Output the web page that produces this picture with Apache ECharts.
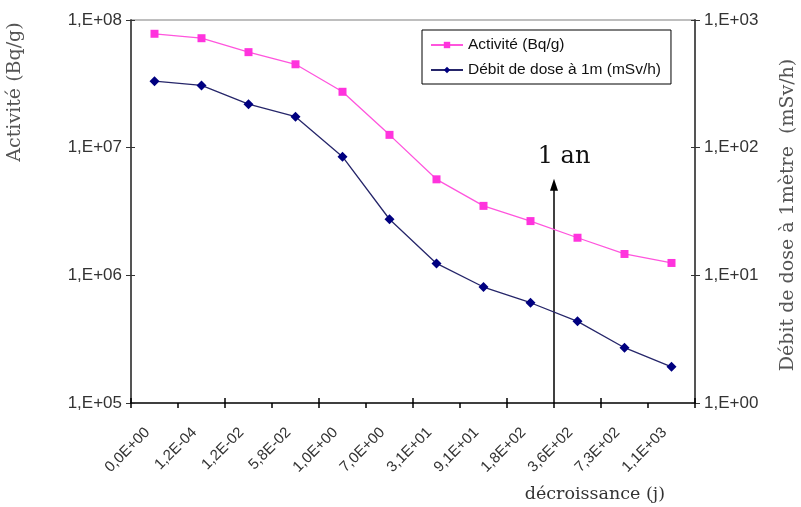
<!DOCTYPE html>
<html>
<head>
<meta charset="utf-8">
<script src="https://cdn.jsdelivr.net/npm/echarts@6/dist/echarts.min.js"></script>
<style>
  html, body { margin: 0; padding: 0; background: #fff; }
  #chart { width: 801px; height: 507px; }
</style>
</head>
<body>
<div id="chart"></div>
<script>
// Decay times (days) shown as category labels
const categories = ['0,0E+00', '1,2E-04', '1,2E-02', '5,8E-02', '1,0E+00', '7,0E+00',
  '3,1E+01', '9,1E+01', '1,8E+02', '3,6E+02', '7,3E+02', '1,1E+03'];

// Specific activity (Bq/g), left log axis
const activite = [7.8e7, 7.2e7, 5.6e7, 4.5e7, 2.74e7, 1.26e7,
  5.65e6, 3.5e6, 2.66e6, 1.97e6, 1.47e6, 1.25e6];

// Dose rate at 1 m (mSv/h), right log axis
const debitDose = [332, 307, 219, 175, 85, 27.5, 12.4, 8.1, 6.1, 4.36, 2.71, 1.92];

// "1 an" marker: between these two categories, arrow tip at this activity level
const anMarkerBetween = [8, 9];
const anArrowTop = 5.5e6;

const expFmt = v => {
  const e = Math.round(Math.log10(v));
  return '1,E' + (e < 0 ? '-' : '+') + String(Math.abs(e)).padStart(2, '0');
};

const sans = '"Liberation Sans", Arial, sans-serif';
const serif = '"DejaVu Serif", serif';

// Axis pairs: the second of each pair only draws the inner half of the tick marks
const logLeft = { type: 'log', logBase: 10, min: 1e5, max: 1e8, position: 'left' };
const logRight = { type: 'log', logBase: 10, min: 1, max: 1000, position: 'right' };
const innerTicks = {
  axisLine: { show: false }, axisLabel: { show: false }, splitLine: { show: false },
  axisTick: { show: true, inside: true, length: 4, lineStyle: { color: '#333' } }
};

const chart = echarts.init(document.getElementById('chart'));
chart.setOption({
  animation: false,
  grid: { left: 131, right: 106, top: 20, bottom: 104 },
  legend: {
    orient: 'vertical', left: 422, top: 30,
    borderColor: '#000', borderWidth: 1, padding: [7, 10, 6, 8],
    itemWidth: 32, itemHeight: 8, itemGap: 9,
    textStyle: { fontFamily: sans, fontSize: 15.5, color: '#111' },
    data: [
      { name: 'Activité (Bq/g)' },
      { name: 'Débit de dose à 1m (mSv/h)' }
    ]
  },
  xAxis: [
    {
      type: 'category', data: categories, boundaryGap: true,
      axisLine: { lineStyle: { color: '#000', width: 1.5 } },
      axisTick: { show: true, length: 5, lineStyle: { color: '#000', width: 1.5 } },
      axisLabel: { rotate: 45, fontFamily: sans, fontSize: 15, color: '#333',
                   margin: 20, padding: [0, 10, 0, 0] },
      name: 'décroissance (j)', nameLocation: 'end',
      nameTextStyle: { fontFamily: serif, fontSize: 17.5, color: '#333',
                       align: 'right', verticalAlign: 'top', padding: [82, 30, 0, 0] },
      nameGap: 0
    },
    Object.assign({ type: 'category', data: categories, boundaryGap: true, position: 'bottom' },
      innerTicks, { axisTick: { show: true, inside: true, length: 5, lineStyle: { color: '#000', width: 1.5 } } })
  ],
  yAxis: [
    Object.assign({}, logLeft, {
      axisLine: { show: true, lineStyle: { color: '#555', width: 2 } },
      axisTick: { show: true, length: 5, lineStyle: { color: '#333' } },
      splitLine: { show: false },
      axisLabel: { formatter: expFmt, fontFamily: sans, fontSize: 17, color: '#333', margin: 9 }
    }),
    Object.assign({}, logRight, {
      axisLine: { show: true, lineStyle: { color: '#555', width: 2 } },
      axisTick: { show: true, length: 5, lineStyle: { color: '#333' } },
      splitLine: { show: false },
      axisLabel: { formatter: expFmt, fontFamily: sans, fontSize: 17, color: '#333', margin: 9 }
    }),
    Object.assign({}, logLeft, innerTicks),
    Object.assign({}, logRight, innerTicks)
  ],
  series: [
    {
      name: 'Activité (Bq/g)', type: 'line', yAxisIndex: 0, data: activite,
      symbol: 'rect', symbolSize: 8,
      itemStyle: { color: '#ff33dd' },
      lineStyle: { color: '#ff55dd', width: 1.3 }
    },
    {
      name: 'Débit de dose à 1m (mSv/h)', type: 'line', yAxisIndex: 1, data: debitDose,
      symbol: 'diamond', symbolSize: 10,
      itemStyle: { color: '#000080' },
      lineStyle: { color: '#26266a', width: 1.3 }
    }
  ]
});

// Frame, axis titles and the "1 an" arrow, placed from the axes' own scales
const x0 = chart.convertToPixel({ xAxisIndex: 0 }, 0);
const x1 = chart.convertToPixel({ xAxisIndex: 0 }, categories.length - 1);
const half = (x1 - x0) / (categories.length - 1) / 2;
const xa = chart.convertToPixel({ xAxisIndex: 0 }, anMarkerBetween[0]);
const xb = chart.convertToPixel({ xAxisIndex: 0 }, anMarkerBetween[1]);
const xm = (xa + xb) / 2;
const yBottom = chart.convertToPixel({ yAxisIndex: 0 }, 1e5);
const yTopAxis = chart.convertToPixel({ yAxisIndex: 0 }, 1e8);
const yTip = chart.convertToPixel({ yAxisIndex: 0 }, anArrowTop);

chart.setOption({
  graphic: [
    { id: 'frameTop', type: 'line', silent: true,
      shape: { x1: x0 - half, y1: yTopAxis, x2: x1 + half, y2: yTopAxis },
      style: { stroke: '#a8a8a8', lineWidth: 1.5 } },
    { id: 'nameLeft', type: 'text', x: 15, y: 92, rotation: Math.PI / 2,
      style: { text: 'Activité (Bq/g)', font: '19px "DejaVu Serif", serif', fill: '#555',
               align: 'center', verticalAlign: 'middle' } },
    { id: 'nameRight', type: 'text', x: 788, y: 215, rotation: Math.PI / 2,
      style: { text: 'Débit de dose à 1mètre  (mSv/h)', font: '19px "DejaVu Serif", serif', fill: '#555',
               align: 'center', verticalAlign: 'middle' } },
    { id: 'anLine', type: 'line', silent: true,
      shape: { x1: xm, y1: yBottom, x2: xm, y2: yTip + 8 },
      style: { stroke: '#000', lineWidth: 1.5 } },
    { id: 'anHead', type: 'polygon', silent: true,
      shape: { points: [[xm, yTip - 2], [xm - 4, yTip + 10], [xm + 4, yTip + 10]] },
      style: { fill: '#000' } },
    { id: 'anText', type: 'text', x: xm + 10, y: yTip - 12,
      style: { text: '1 an', font: '24px "DejaVu Serif", serif', fill: '#111',
               align: 'center', verticalAlign: 'bottom' } }
  ]
});
</script>
</body>
</html>
